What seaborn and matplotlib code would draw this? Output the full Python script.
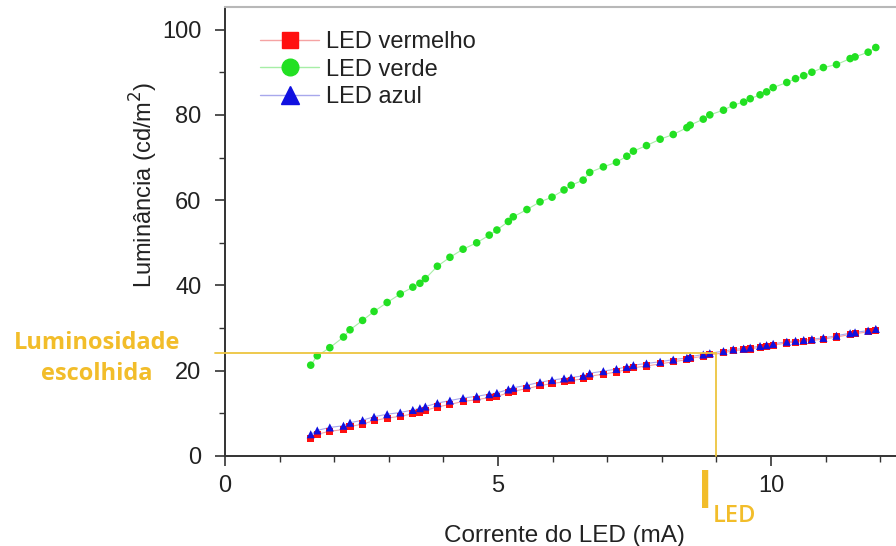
import numpy as np
import pandas as pd
import matplotlib
matplotlib.use("Agg")
import matplotlib.pyplot as plt
from matplotlib.lines import Line2D
from matplotlib.ticker import MultipleLocator
import seaborn as sns

# ---------------- data ----------------
corrente = [1.57, 1.69, 1.92, 2.17, 2.29, 2.52, 2.73, 2.97, 3.21, 3.44, 3.57, 3.67,
            3.89, 4.12, 4.36, 4.61, 4.84, 4.98, 5.19, 5.28, 5.53, 5.77, 5.99, 6.21,
            6.34, 6.56, 6.68, 6.93, 7.17, 7.36, 7.48, 7.72, 7.97, 8.21, 8.46, 8.52,
            8.76, 8.88, 9.13, 9.31, 9.50, 9.62, 9.80, 9.92, 10.04, 10.29, 10.45, 10.60,
            10.75, 10.96, 11.20, 11.45, 11.54, 11.78, 11.92]

lum_verde = [21.3, 23.5, 25.4, 27.9, 29.6, 31.8, 33.9, 36.0, 38.0, 39.6, 40.5, 41.6,
             44.5, 46.6, 48.5, 50.0, 51.8, 53.0, 55.0, 56.1, 57.8, 59.6, 60.7, 62.4,
             63.5, 64.7, 66.5, 67.8, 68.9, 70.3, 71.5, 72.8, 74.3, 75.4, 77.0, 77.6,
             79.0, 80.0, 81.1, 82.3, 83.0, 83.8, 84.7, 85.4, 86.4, 87.6, 88.5, 89.2,
             90.0, 91.1, 91.8, 93.2, 93.6, 94.7, 95.8]

lum_azul = [5.1, 6.0, 6.7, 7.1, 7.8, 8.4, 9.2, 9.8, 10.2, 10.8, 11.2, 11.6,
            12.4, 13.0, 13.6, 14.0, 14.5, 14.8, 15.6, 16.0, 16.6, 17.3, 17.8, 18.2,
            18.4, 18.8, 19.4, 19.9, 20.4, 20.9, 21.3, 21.7, 22.1, 22.6, 23.0, 23.3,
            23.8, 24.1, 24.6, 25.0, 25.2, 25.4, 25.8, 26.0, 26.3, 26.8, 27.0, 27.2,
            27.4, 27.7, 28.2, 28.8, 29.0, 29.4, 29.8]

lum_vermelho = [4.2, 5.1, 5.8, 6.2, 6.9, 7.5, 8.3, 8.9, 9.3, 9.9, 10.3, 10.7,
                11.5, 12.1, 12.8, 13.2, 13.7, 14.0, 14.8, 15.2, 15.8, 16.5, 17.0, 17.4,
                17.7, 18.1, 18.7, 19.2, 19.7, 20.3, 20.7, 21.1, 21.6, 22.1, 22.6, 22.9,
                23.4, 23.7, 24.2, 24.7, 24.9, 25.1, 25.5, 25.7, 26.0, 26.5, 26.7, 26.9,
                27.1, 27.4, 27.9, 28.5, 28.7, 29.1, 29.5]

series_names = ["LED vermelho", "LED verde", "LED azul"]
lum_escolhida = 24.2
i_led = 9.0

x_ticks = [0, 5, 10]
y_ticks = [0, 20, 40, 60, 80, 100]

# ---------------- style ----------------
sns.set_style("ticks")
plt.rcParams["font.family"] = ["Liberation Sans", "DejaVu Sans"]

fig = plt.figure(figsize=(8.96, 5.46), dpi=100)
ax = fig.add_axes([225 / 896, 1 - 456 / 546, (902 - 225) / 896, (456 - 7) / 546])

styles = {
    "LED vermelho": dict(y=lum_vermelho, c="#ff1010", lc="#f5a3a3", m="s", s=26),
    "LED verde": dict(y=lum_verde, c="#22e022", lc="#a6eea6", m="o", s=30),
    "LED azul": dict(y=lum_azul, c="#1010e0", lc="#a8a8ec", m="^", s=34),
}

for name in series_names:
    st = styles[name]
    df = pd.DataFrame({"x": corrente, "y": st["y"]})
    sns.lineplot(data=df, x="x", y="y", ax=ax, color=st["lc"], linewidth=0.8,
                 estimator=None, sort=True, legend=False, zorder=2)
    sns.scatterplot(data=df, x="x", y="y", ax=ax, color=st["c"], marker=st["m"],
                    s=st["s"], edgecolor="none", linewidth=0, legend=False, zorder=3)

# reference lines
gold_line = "#EDC53F"
gold_text = "#F2BD2A"
ax.plot([-0.18, i_led], [lum_escolhida, lum_escolhida], color=gold_line, lw=1.3,
        clip_on=False, zorder=4)
ax.plot([i_led, i_led], [lum_escolhida, 0], color=gold_line, lw=1.3,
        clip_on=False, zorder=4)

ax.set_xlim(0, 12.4)
ax.set_ylim(0, 105.3)
ax.set_xticks(x_ticks)
ax.set_yticks(y_ticks)
ax.xaxis.set_minor_locator(MultipleLocator(1))
ax.yaxis.set_minor_locator(MultipleLocator(10))
ax.tick_params(axis="both", which="major", direction="out", length=7, width=1.2,
               color="#333333", labelsize=17, labelcolor="#222222")
ax.tick_params(axis="both", which="minor", direction="out", length=4, width=1.0,
               color="#333333")
ax.tick_params(axis="x", which="major", pad=7)
ax.tick_params(axis="y", which="major", pad=10)

for sp in ["left", "bottom"]:
    ax.spines[sp].set_color("#333333")
    ax.spines[sp].set_linewidth(1.4)
ax.spines["top"].set_color("#b8b8b8")
ax.spines["top"].set_linewidth(1.5)
ax.spines["right"].set_visible(False)

ax.set_xlabel("Corrente do LED (mA)", fontsize=17.5, color="#222222", va="baseline")
ax.xaxis.set_label_coords((564 - 225) / 677, (456 - 542) / 449)
ax.set_ylabel("Luminância (cd/m$^2$)", fontsize=17, color="#222222")
ax.yaxis.set_label_coords((160 - 225) / 677, (456 - 185) / 449)

# legend
handles = []
for name in series_names:
    st = styles[name]
    handles.append(Line2D([0], [0], color=st["lc"], lw=1.0, marker=st["m"],
                          markersize=12 if st["m"] != "^" else 13,
                          markerfacecolor=st["c"], markeredgecolor=st["c"]))
leg = ax.legend(handles, series_names, loc="upper left",
                bbox_to_anchor=((260 - 225) / 677, (456 - 31) / 449),
                frameon=False, fontsize=17, handlelength=2.5, handletextpad=0.3,
                labelspacing=0.24, borderaxespad=0, borderpad=0)
for t in leg.get_texts():
    t.set_color("#222222")

# annotations
fig.text(97 / 896, 1 - 349 / 546, "Luminosidade", ha="center", va="baseline",
         fontsize=17, fontweight="bold", color=gold_text, family="Open Sans")
fig.text(97 / 896, 1 - 380 / 546, "escolhida", ha="center", va="baseline",
         fontsize=17, fontweight="bold", color=gold_text, family="Open Sans")
fig.text(705.5 / 896, 1 - 508 / 546, "I", ha="center", va="baseline",
         fontsize=38, fontweight="semibold", color=gold_text, family="Open Sans")
fig.text(713 / 896, 1 - 522 / 546, "LED", ha="left", va="baseline",
         fontsize=17, fontweight="semibold", color=gold_text, family="Open Sans")

fig.savefig("out.png", dpi=100)
